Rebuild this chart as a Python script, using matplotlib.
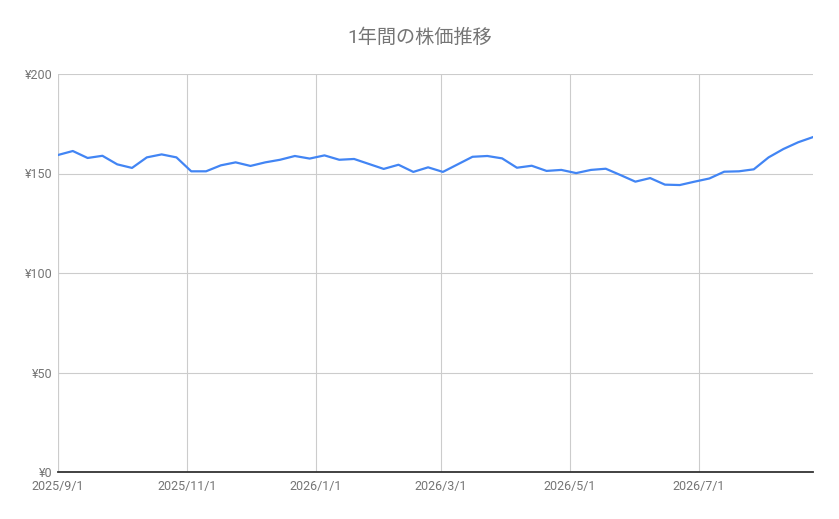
import numpy as np
import pandas as pd
import matplotlib
matplotlib.use("Agg")
import matplotlib.pyplot as plt
import matplotlib.dates as mdates
from matplotlib.ticker import FuncFormatter

plt.rcParams['font.family'] = ['Roboto', 'Noto Sans CJK JP', 'DejaVu Sans']

# weekly closing prices
dates = pd.date_range("2025-09-01", periods=52, freq="7D")
prices = [
    159.3, 161.3, 157.8, 158.9, 154.6, 152.8, 158.1, 159.6, 158.1, 151.1,
    151.1, 154.1, 155.6, 153.8, 155.6, 156.9, 158.8, 157.5, 159.1, 156.9,
    157.3, 154.8, 152.3, 154.4, 150.8, 153.1, 150.8, 154.6, 158.4, 158.8,
    157.6, 152.9, 153.9, 151.3, 151.8, 150.2, 151.8, 152.4, 149.2, 145.9,
    147.7, 144.4, 144.2, 145.9, 147.5, 150.9, 151.1, 152.1, 158.1, 162.3,
    165.7, 168.3,
]
tick_dates = pd.to_datetime(["2025-09-01", "2025-11-01", "2026-01-01",
                             "2026-03-01", "2026-05-01", "2026-07-01"])
tick_labels = ["2025/9/1", "2025/11/1", "2026/1/1", "2026/3/1", "2026/5/1", "2026/7/1"]
title = "1年間の株価推移"

fig = plt.figure(figsize=(8.39, 5.19), dpi=100)
ax = fig.add_axes([58 / 839, 47 / 519, 755 / 839, 398 / 519])

ax.plot(dates, prices, color="#4285F4", lw=1.6, solid_joinstyle="round", zorder=3)

ax.set_xlim(dates[0], dates[-1])
ax.set_ylim(0, 200)
ax.set_yticks([0, 50, 100, 150, 200])
ax.yaxis.set_major_formatter(FuncFormatter(lambda v, p: f"¥{int(v)}"))
ax.set_xticks(tick_dates)
ax.set_xticklabels(tick_labels)

ax.grid(True, color="#cccccc", lw=0.8, zorder=0)
for s in ["top", "right", "left"]:
    ax.spines[s].set_visible(False)
ax.spines["bottom"].set_color("#333333")
ax.spines["bottom"].set_linewidth(1.3)
ax.axvline(dates[0], color="#cccccc", lw=0.8, zorder=0)
ax.tick_params(length=0, labelsize=9, labelcolor="#757575")
ax.tick_params(axis="y", pad=4)
ax.tick_params(axis="x", pad=6)

fig.text(0.5, 1 - 38 / 519, title, ha="center", va="center",
         fontsize=13.8, color="#757575")

fig.savefig("out.png", dpi=100, facecolor="white")
